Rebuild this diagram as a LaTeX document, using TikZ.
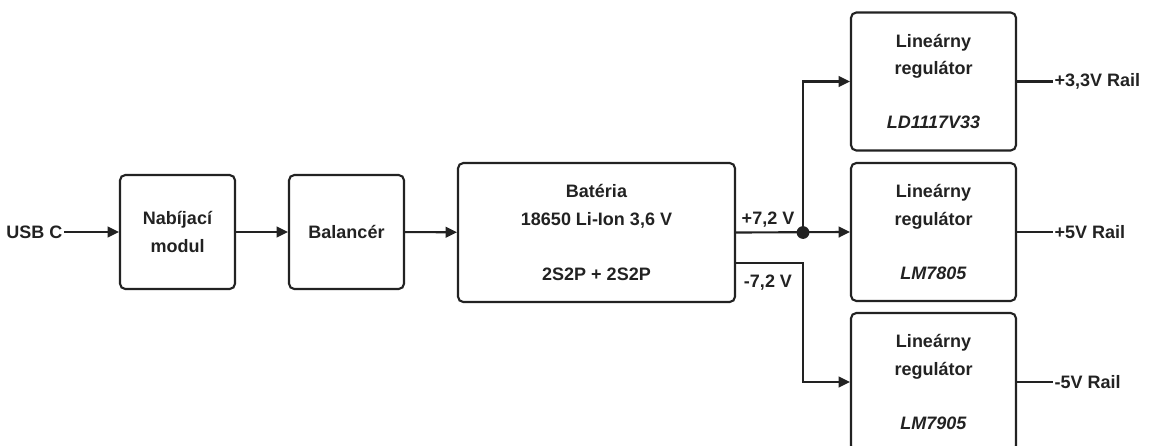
\documentclass[tikz,border=0pt]{standalone}
\usepackage{fontspec}
\setmainfont{Liberation Sans}
\usetikzlibrary{arrows.meta,positioning}
\definecolor{ink}{HTML}{222222}
\tikzset{blok/.style={draw=ink,line width=1.6pt,rounded corners=4pt,align=center,inner sep=0pt,
    text=ink,font=\fontsize{13.5}{20.5}\selectfont\bfseries},
  regbox/.style={blok,minimum width=123.75pt,minimum height=103.5pt},
  lbl/.style={text=ink,inner sep=1pt,font=\fontsize{13.5}{16}\selectfont\bfseries},
  arr/.style={-{Triangle[length=8.5pt,width=8pt]},line width=1.6pt,draw=ink},
  wire/.style={line width=1.6pt,draw=ink}}
\begin{document}
\begin{tikzpicture}[x=0.75pt,y=-0.75pt]
\useasboundingbox (0,0) rectangle (1153,446);
\clip (0,0) rectangle (1153,446);
% vstup a nabijanie
\node[lbl,anchor=east] (usb) at (64,232) {USB C};
\node[blok,minimum width=86.25pt,minimum height=85.5pt] (nab) at (177.5,232) {Nabíjací\\modul};
\node[blok,minimum width=86.25pt,minimum height=85.5pt] (bal) at (346.5,232) {Balancér};
\node[blok,minimum width=207.75pt,minimum height=104.25pt] (bat) at (596.5,232.5)
  {Batéria\\18650 Li-Ion 3,6 V\\[21pt]2S2P + 2S2P};
% regulatory
\node[regbox] (reg1) at (933.5,81.5) {Lineárny\\regulátor\\[20pt]\textit{LD1117V33}};
\node[regbox] (reg2) at (933.5,232) {Lineárny\\regulátor\\[20pt]\textit{LM7805}};
\node[regbox] (reg3) at (933.5,382) {Lineárny\\regulátor\\[20pt]\textit{LM7905}};
\node[lbl,anchor=west] (r33) at (1053,81.5) {+3,3V Rail};
\node[lbl,anchor=west] (r5) at (1053,232) {+5V Rail};
\node[lbl,anchor=west] (rm5) at (1053,382) {-5V Rail};
\coordinate (jn) at (803,232.5);
\coordinate (mn) at (803,263);
\draw[arr] (usb) -- (nab);
\draw[arr] (nab) -- (bal);
\draw[arr] (bal) -- (bat);
\draw[arr] (bat.east) -- (reg2.west);
\draw[arr] (jn) |- (reg1.west);
\draw[arr] (bat.east |- mn) -- (mn) |- (reg3.west);
\fill[ink] (jn) circle (4.8pt);
\node[lbl] (plus) at (768,220) {+7,2 V};
\node[lbl] (minus) at (768,283) {-7,2 V};
\draw[wire] (reg1.east) -- (r33.west);
\draw[wire] (reg2.east) -- (r5.west);
\draw[wire] (reg3.east) -- (rm5.west);
\end{tikzpicture}
\end{document}
